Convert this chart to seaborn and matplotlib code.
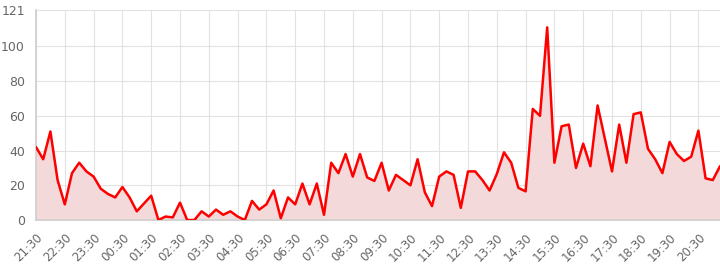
import numpy as np
import pandas as pd
import seaborn as sns
import matplotlib
matplotlib.use("Agg")
import matplotlib.pyplot as plt

# 15-minute samples from 21:30 to 21:15 next day
values = [42, 35, 51, 23, 9, 27, 33, 28, 25, 18, 15, 13, 19, 13, 5, 9.5,
          14, 0, 2, 1.5, 10, 0, 0, 5, 2, 6, 3, 5, 2, 0,
          11, 6, 9, 17, 1, 13, 9, 21, 9, 21, 3, 33, 27, 38, 25, 38,
          24.5, 22.5, 33, 17, 26, 23, 20, 35, 16, 8, 25, 28, 26, 7,
          28, 28, 23, 17, 26.5, 39, 33, 18.5, 16.5, 64, 60, 111, 33, 54,
          55, 30, 44, 31, 66, 47, 28, 55, 33, 61, 62, 41, 35, 27,
          45, 38, 34, 36.5, 51.5, 24, 23, 31]
start_minutes = 21 * 60 + 30
times = [f"{((start_minutes + 15 * i) // 60) % 24:02d}:{(start_minutes + 15 * i) % 60:02d}"
         for i in range(len(values))]
y_ticks = [0, 20, 40, 60, 80, 100, 121]

df = pd.DataFrame({"idx": np.arange(len(values)), "value": values, "time": times})

sns.set_theme(style="white")
plt.rcParams['font.family'] = ['DejaVu Sans']

fig = plt.figure(figsize=(7.2, 2.67), dpi=100)
ax = fig.add_axes([36 / 720, 47 / 267, 684 / 720, 210 / 267])

ax.fill_between(df["idx"], 0, df["value"], color="#f3d9da", zorder=1, linewidth=0)
sns.lineplot(data=df, x="idx", y="value", color="#ff0000", linewidth=1.8, ax=ax, zorder=3)

ax.set_xlim(0, len(values) - 1)
ax.set_ylim(0, 121)
xt = list(range(0, len(values), 4))
ax.set_xticks(xt)
ax.set_xticklabels([times[i] for i in xt], rotation=45, ha="right", rotation_mode="anchor",
                   fontsize=8.5, color="#666666")
ax.set_yticks(y_ticks)
ax.set_yticklabels([str(t) for t in y_ticks], fontsize=9, color="#666666")
ax.grid(True, color="#e2e2e2", linewidth=0.8, zorder=0)
ax.set_axisbelow(True)
ax.tick_params(axis="x", length=6, color="#e2e2e2", pad=2)
ax.tick_params(axis="y", length=6, color="#e2e2e2", pad=2)
for s in ["top", "right"]:
    ax.spines[s].set_visible(False)
ax.spines["left"].set_color("#cfcfcf")
ax.spines["bottom"].set_color("#cfcfcf")
ax.set_xlabel("")
ax.set_ylabel("")

fig.savefig("out.png", dpi=100)
